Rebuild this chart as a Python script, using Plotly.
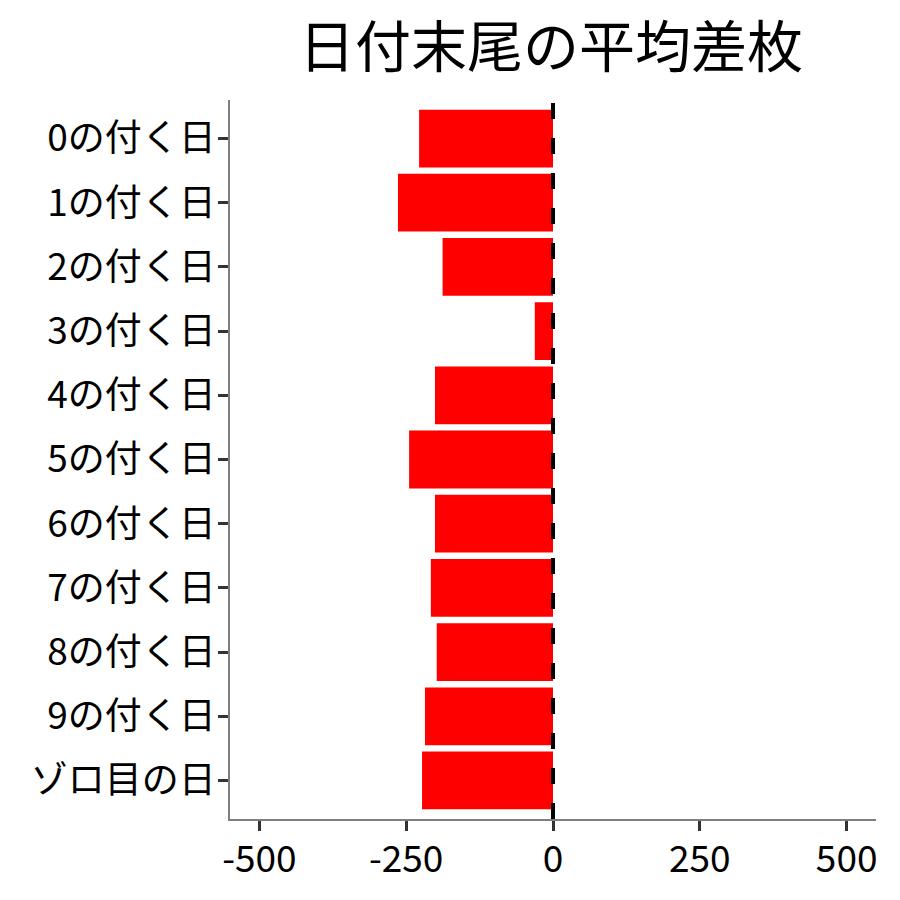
import plotly.graph_objects as go

# 日付末尾ごとの平均差枚
labels = ["0の付く日", "1の付く日", "2の付く日", "3の付く日", "4の付く日",
          "5の付く日", "6の付く日", "7の付く日", "8の付く日", "9の付く日", "ゾロ目の日"]
avg_diff = [-228, -264, -188, -31, -201, -245, -201, -208, -198, -218, -223]
x_ticks = [-500, -250, 0, 250, 500]

font = "Noto Sans CJK JP"

fig = go.Figure()
fig.add_trace(go.Bar(
    x=avg_diff,
    y=labels,
    orientation="h",
    width=0.9,
    marker_color="#FF0000",
    marker_line_width=0,
))

# 0 の位置に破線
fig.add_shape(type="line", xref="x", yref="paper", x0=0, x1=0, y0=0, y1=1,
              line=dict(color="black", width=4, dash="16px,19px"), layer="above")

fig.update_layout(
    width=900, height=900,
    title=dict(text="日付末尾の平均差枚", x=0.6033, xanchor="center",
               y=0.956, yanchor="middle", font=dict(size=56, color="black", family=font)),
    font=dict(family=font, color="black"),
    plot_bgcolor="white", paper_bgcolor="white",
    margin=dict(l=222, r=32, t=92, b=89),
    showlegend=False,
)
fig.update_xaxes(
    range=[-550, 550], tickvals=x_ticks, ticktext=[str(v) for v in x_ticks],
    showgrid=False, zeroline=False, showline=True, linecolor="#7f7f7f", linewidth=1.5,
    ticks="outside", ticklen=10, tickwidth=3, tickcolor="#333333",
    tickfont=dict(size=37, color="black", family=font),
    ticklabelstandoff=-3,
)
fig.update_yaxes(
    categoryorder="array", categoryarray=labels, range=[10.6, -0.6],
    showgrid=False, zeroline=False, showline=True, linecolor="#7f7f7f", linewidth=1.5,
    ticks="outside", ticklen=10, tickwidth=3, tickcolor="#333333",
    tickfont=dict(size=37, color="black", family=font),
    ticklabelstandoff=-5,
)

fig.write_html("out.html")
